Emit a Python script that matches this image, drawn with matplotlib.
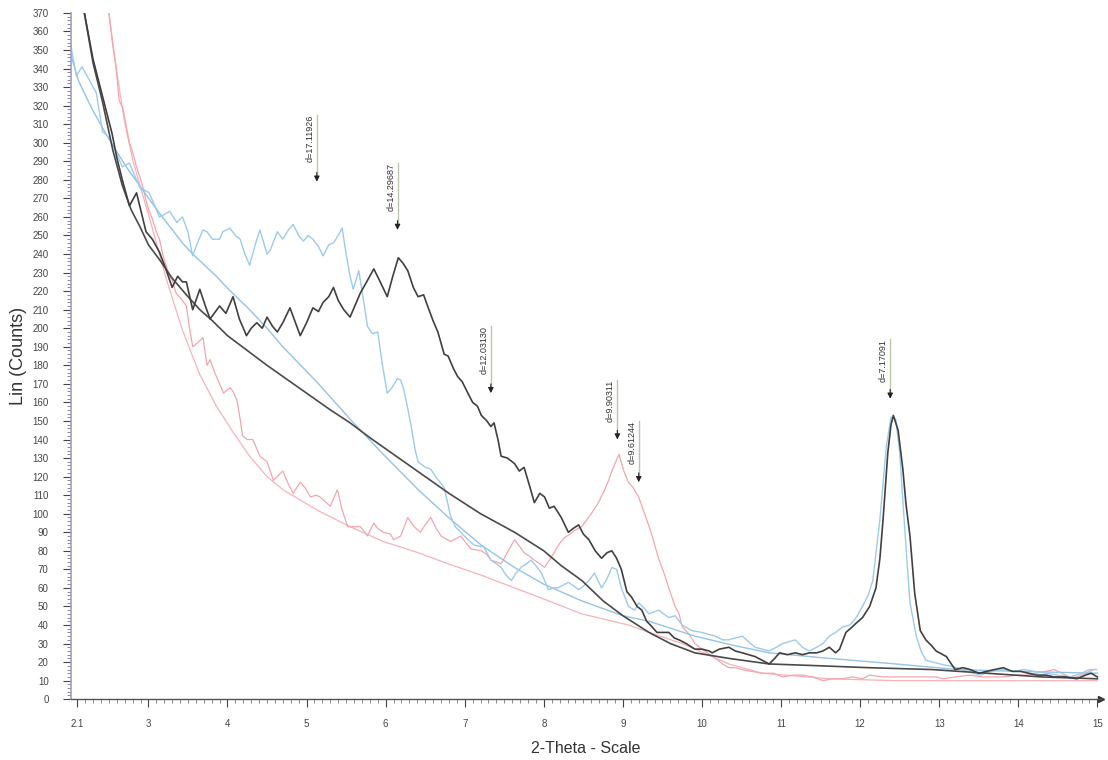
import numpy as np
import matplotlib.pyplot as plt

# sample 1 (dark trace) and its background
tth_black = [2.19, 2.30, 2.42, 2.54, 2.60, 2.67, 2.76, 2.85, 2.97, 3.05, 3.14, 3.22, 3.30, 3.37, 3.43,
             3.48, 3.56, 3.65, 3.72, 3.78, 3.90, 3.98, 4.07, 4.15, 4.24, 4.30, 4.37, 4.44, 4.50, 4.57,
             4.63, 4.70, 4.79, 4.86, 4.92, 5.00, 5.08, 5.15, 5.21, 5.28, 5.34, 5.40, 5.47, 5.55, 5.62,
             5.68, 5.76, 5.85, 5.92, 6.02, 6.09, 6.16, 6.22, 6.28, 6.35, 6.41, 6.48, 6.53, 6.60, 6.66,
             6.74, 6.79, 6.86, 6.91, 6.97, 7.04, 7.10, 7.16, 7.21, 7.28, 7.33, 7.37, 7.42, 7.46, 7.54,
             7.63, 7.69, 7.75, 7.82, 7.88, 7.95, 8.01, 8.07, 8.13, 8.22, 8.31, 8.37, 8.44, 8.50, 8.57,
             8.65, 8.73, 8.80, 8.86, 8.92, 8.98, 9.05, 9.11, 9.18, 9.24, 9.30, 9.37, 9.43, 9.49, 9.58,
             9.65, 9.71, 9.80, 9.91, 10.00, 10.09, 10.13, 10.22, 10.34, 10.42, 10.51, 10.59, 10.67,
             10.76, 10.85, 10.92, 10.98, 11.08, 11.18, 11.27, 11.36, 11.45, 11.53, 11.61, 11.69, 11.74,
             11.82, 11.90, 11.95, 12.03, 12.12, 12.20, 12.25, 12.29, 12.35, 12.39, 12.42, 12.48, 12.54,
             12.58, 12.63, 12.69, 12.76, 12.83, 12.90, 12.96, 13.09, 13.20, 13.30, 13.39, 13.50, 13.60,
             13.70, 13.81, 13.92, 14.03, 14.13, 14.23, 14.35, 14.45, 14.60, 14.74, 14.85, 14.92, 15.00]
cnt_black = [370, 345, 325, 305, 292, 280, 266, 273, 252, 248, 241, 232, 222, 228, 225,
             225, 210, 221, 212, 205, 212, 208, 217, 205, 196, 200, 203, 200, 206, 201,
             198, 203, 211, 203, 196, 203, 211, 209, 214, 217, 222, 215, 210, 206, 213,
             219, 225, 232, 226, 217, 228, 238, 235, 231, 222, 217, 218, 212, 204, 198,
             186, 185, 178, 174, 171, 165, 160, 158, 153, 150, 147, 149, 140, 131, 130,
             127, 123, 125, 115, 106, 111, 109, 103, 104, 98, 90, 92, 94, 89, 86,
             80, 76, 79, 80, 76, 70, 58, 55, 50, 48, 42, 39, 36, 36, 36,
             33, 32, 30, 27, 27, 26, 25, 27, 28, 26, 25, 24, 23,
             21, 19, 22, 25, 24, 25, 24, 25, 25, 26, 28, 25, 27,
             36, 39, 41, 44, 50, 60, 76, 97, 133, 148, 153, 145, 124,
             105, 88, 57, 37, 32, 29, 26, 23, 16, 17, 16, 14, 15,
             16, 17, 15, 15, 14, 13, 13, 12, 12, 11, 13, 14, 12]
tth_black_bg = [2.19, 2.30, 2.42, 2.55, 2.67, 2.78, 2.89, 3.00, 3.14, 3.30, 3.48, 3.65, 3.81, 4.00,
                4.25, 4.50, 4.70, 5.00, 5.30, 5.55, 5.80, 6.00, 6.40, 6.80, 7.20, 7.63, 8.00, 8.22,
                8.48, 8.75, 9.00, 9.33, 9.60, 9.91, 10.34, 10.85, 11.50, 12.10, 12.90, 13.60, 14.30, 15.00]
cnt_black_bg = [370, 343, 322, 296, 277, 264, 255, 245, 237, 227, 218, 210, 204, 196,
                188, 180, 174, 165, 156, 149, 141, 135, 123, 111, 100, 90, 80, 72,
                64, 53, 45, 36, 30, 25, 22, 19, 18, 17, 16, 14, 12, 11]

# sample 2 (light blue trace) and its background
tth_blue = [2.00, 2.05, 2.09, 2.16, 2.25, 2.34, 2.42, 2.50, 2.59, 2.67, 2.76, 2.89, 3.01, 3.08, 3.14,
            3.27, 3.36, 3.43, 3.50, 3.56, 3.62, 3.69, 3.74, 3.81, 3.90, 3.94, 4.03, 4.10, 4.16, 4.22,
            4.28, 4.35, 4.41, 4.50, 4.54, 4.63, 4.70, 4.77, 4.83, 4.90, 4.96, 5.02, 5.08, 5.15, 5.21,
            5.28, 5.34, 5.40, 5.45, 5.50, 5.55, 5.59, 5.66, 5.72, 5.77, 5.83, 5.90, 5.96, 6.02, 6.08,
            6.15, 6.19, 6.23, 6.32, 6.37, 6.41, 6.50, 6.57, 6.65, 6.74, 6.82, 6.88, 6.95, 7.04, 7.12,
            7.24, 7.33, 7.40, 7.46, 7.52, 7.59, 7.65, 7.71, 7.78, 7.84, 7.90, 7.97, 8.06, 8.12, 8.18,
            8.31, 8.38, 8.44, 8.50, 8.57, 8.64, 8.73, 8.80, 8.86, 8.92, 8.98, 9.07, 9.15, 9.20, 9.27,
            9.33, 9.45, 9.58, 9.66, 9.75, 9.87, 10.00, 10.08, 10.17, 10.26, 10.34, 10.42, 10.51, 10.59,
            10.67, 10.76, 10.85, 10.94, 11.02, 11.10, 11.18, 11.27, 11.36, 11.45, 11.53, 11.61, 11.69,
            11.78, 11.87, 11.95, 12.03, 12.10, 12.16, 12.25, 12.33, 12.39, 12.45, 12.50, 12.57, 12.63,
            12.71, 12.77, 12.83, 12.92, 13.01, 13.12, 13.22, 13.35, 13.52, 13.65, 13.81, 13.95, 14.07,
            14.20, 14.36, 14.50, 14.66, 14.80, 14.90, 14.99]
cnt_blue = [357, 345, 336, 341, 334, 327, 306, 303, 295, 287, 289, 276, 273, 266, 260,
            263, 257, 260, 252, 239, 246, 253, 252, 248, 248, 252, 254, 250, 248, 240,
            234, 245, 253, 240, 242, 252, 248, 253, 256, 250, 247, 250, 248, 244, 239,
            245, 246, 250, 254, 240, 228, 221, 231, 215, 201, 197, 198, 180, 165, 168,
            173, 172, 167, 148, 135, 128, 125, 124, 119, 114, 99, 93, 90, 86, 83,
            82, 75, 73, 71, 67, 64, 68, 71, 73, 75, 72, 68, 59, 60, 60,
            63, 61, 59, 61, 64, 68, 60, 65, 71, 70, 60, 50, 48, 52, 49,
            46, 48, 44, 45, 40, 37, 36, 35, 34, 32, 32, 33, 34, 31,
            28, 27, 26, 28, 30, 31, 32, 28, 26, 28, 30, 34, 36,
            39, 40, 44, 50, 56, 64, 97, 136, 152, 151, 133, 88, 52,
            34, 26, 21, 20, 19, 18, 17, 15, 13, 15, 16, 15, 16,
            15, 14, 13, 12, 14, 16, 16]
tth_blue_bg = [2.00, 2.12, 2.29, 2.50, 2.72, 2.92, 3.14, 3.43, 3.56, 3.86, 3.99, 4.28, 4.50, 4.70,
               5.13, 5.55, 5.97, 6.41, 6.82, 7.21, 7.63, 8.00, 8.48, 9.00, 9.33, 9.91, 10.40, 10.85,
               11.61, 12.45, 13.22, 14.00, 15.00]
cnt_blue_bg = [350, 333, 318, 302, 287, 275, 262, 246, 240, 228, 222, 210, 200, 190,
               171, 151, 132, 113, 97, 83, 71, 62, 53, 45, 42, 34, 29, 25,
               22, 19, 16, 15, 14]

# sample 3 (pink trace) and its background
tth_red = [2.50, 2.55, 2.59, 2.63, 2.68, 2.72, 2.76, 2.80, 2.85, 2.89, 2.93, 2.97, 3.01, 3.05, 3.10,
           3.14, 3.18, 3.23, 3.27, 3.30, 3.35, 3.43, 3.48, 3.52, 3.56, 3.62, 3.69, 3.74, 3.78, 3.84,
           3.90, 3.95, 4.03, 4.07, 4.12, 4.16, 4.19, 4.25, 4.32, 4.41, 4.50, 4.58, 4.63, 4.70, 4.77,
           4.83, 4.92, 4.98, 5.05, 5.12, 5.17, 5.25, 5.30, 5.39, 5.45, 5.52, 5.60, 5.68, 5.77, 5.85,
           5.90, 5.97, 6.06, 6.10, 6.19, 6.28, 6.36, 6.44, 6.50, 6.57, 6.64, 6.70, 6.82, 6.95, 7.02,
           7.08, 7.21, 7.28, 7.33, 7.40, 7.46, 7.55, 7.63, 7.70, 7.75, 7.82, 7.88, 7.95, 8.01, 8.07,
           8.13, 8.20, 8.26, 8.33, 8.39, 8.48, 8.55, 8.60, 8.69, 8.76, 8.82, 8.86, 8.90, 8.95, 9.02,
           9.07, 9.13, 9.20, 9.24, 9.30, 9.37, 9.45, 9.52, 9.58, 9.66, 9.71, 9.75, 9.84, 9.91, 10.00,
           10.10, 10.17, 10.26, 10.34, 10.42, 10.51, 10.63, 10.76, 10.90, 11.02, 11.15, 11.27, 11.40,
           11.53, 11.65, 11.78, 11.90, 12.03, 12.12, 12.29, 12.40, 12.54, 12.70, 12.80, 12.96, 13.05,
           13.20, 13.39, 13.55, 13.70, 13.81, 14.00, 14.10, 14.23, 14.35, 14.45, 14.55, 14.64, 14.74,
           14.85, 14.96]
cnt_red = [370, 352, 341, 323, 318, 309, 300, 295, 287, 282, 276, 269, 263, 259, 252,
           248, 240, 233, 228, 226, 219, 215, 212, 200, 190, 192, 195, 180, 183, 176,
           170, 165, 168, 166, 161, 151, 142, 140, 140, 131, 128, 118, 120, 123, 116,
           111, 117, 114, 109, 110, 109, 106, 104, 113, 102, 93, 93, 93, 88, 95,
           92, 90, 89, 86, 88, 98, 93, 90, 94, 98, 92, 88, 85, 88, 84,
           81, 80, 78, 75, 74, 73, 80, 86, 82, 79, 77, 75, 73, 71, 75,
           79, 84, 87, 89, 91, 93, 97, 100, 106, 112, 118, 123, 127, 132, 122,
           117, 114, 109, 104, 97, 88, 76, 68, 60, 50, 46, 39, 35, 30, 27,
           24, 22, 19, 17, 17, 16, 15, 14, 14, 12, 13, 13, 12,
           10, 11, 11, 12, 11, 13, 12, 12, 12, 12, 12, 12, 11,
           12, 13, 12, 12, 12, 13, 13, 14, 15, 16, 14, 12, 12,
           14, 16]
tth_red_bg = [2.50, 2.60, 2.70, 2.80, 2.90, 3.01, 3.23, 3.43, 3.65, 3.86, 4.07, 4.28, 4.50, 4.70,
              5.13, 5.55, 5.97, 6.41, 6.79, 7.20, 7.63, 8.00, 8.48, 9.07, 9.33, 9.75, 9.91, 10.34,
              10.76, 11.61, 12.45, 13.50, 15.00]
cnt_red_bg = [370, 338, 311, 291, 276, 260, 226, 199, 175, 158, 144, 131, 120, 113,
              102, 93, 85, 79, 73, 67, 60, 54, 46, 40, 36, 30, 27, 19,
              14, 11, 10, 10, 10]

# peak markers: d-spacing label, 2-theta, arrow tip count, label top count
peak_labels = ["d=17.11926", "d=14.29687", "d=12.03130", "d=9.90311", "d=9.61244", "d=7.17091"]
peak_tth = [5.13, 6.15, 7.33, 8.93, 9.20, 12.38]
peak_tip = [279, 253, 165, 140, 117, 162]
peak_top = [315, 289, 201, 172, 150, 194]

plt.rcParams['font.family'] = ['Liberation Sans', 'DejaVu Sans']

fig = plt.figure(figsize=(11.08, 7.6), dpi=100)
ax = fig.add_axes([0.064, 0.080, 0.93, 0.903])

ax.plot(tth_red_bg, cnt_red_bg, color="#f4b3ba", lw=0.9)
ax.plot(tth_red, cnt_red, color="#f3a5ae", lw=0.9)
ax.plot(tth_blue_bg, cnt_blue_bg, color="#94c3e4", lw=1.0)
ax.plot(tth_blue, cnt_blue, color="#9ccbea", lw=1.0)
ax.plot(tth_black_bg, cnt_black_bg, color="#4a4a4a", lw=1.2)
ax.plot(tth_black, cnt_black, color="#404040", lw=1.2)

for lab, x, tip, top in zip(peak_labels, peak_tth, peak_tip, peak_top):
    ax.plot([x, x], [tip + 4, top], color="#b9c9a8", lw=1.0)
    ax.annotate("", xy=(x, tip), xytext=(x, tip + 5),
                arrowprops=dict(arrowstyle="-|>", color="#222222", lw=0.8,
                                mutation_scale=8, shrinkA=0, shrinkB=0))
    ax.text(x - 0.03, top, lab, rotation=90, ha="right", va="top",
            fontsize=6.5, color="#333333")

ax.set_xlim(2.02, 15.05)
ax.set_ylim(0, 370)

ax.set_xticks([2.1] + list(range(3, 16)))
ax.set_xticklabels(["2.1"] + [str(v) for v in range(3, 16)])
ax.set_xticks(np.arange(2.1, 15.01, 0.1), minor=True)
ax.set_yticks(np.arange(0, 371, 10))
ax.set_yticks(np.arange(0, 371, 2), minor=True)

ax.tick_params(axis="both", which="major", labelsize=7, colors="#444444", length=6, width=0.8)
ax.tick_params(axis="both", which="minor", length=3, width=0.6, colors="#777777")
ax.tick_params(axis="x", pad=8)
ax.tick_params(axis="y", pad=10)

for side in ["top", "right"]:
    ax.spines[side].set_visible(False)
ax.spines["left"].set_color("#a79cc8")
ax.spines["left"].set_linewidth(1.2)
ax.spines["bottom"].set_color("#555555")
ax.spines["bottom"].set_linewidth(1.0)
ax.plot(1.0, 0, ">", transform=ax.transAxes, color="#333333", ms=4, clip_on=False)

ax.set_ylabel("Lin (Counts)", fontsize=13, color="#333333", labelpad=4)
ax.set_xlabel("2-Theta - Scale", fontsize=11.5, color="#333333", labelpad=9)

fig.savefig("out.png", dpi=100)
